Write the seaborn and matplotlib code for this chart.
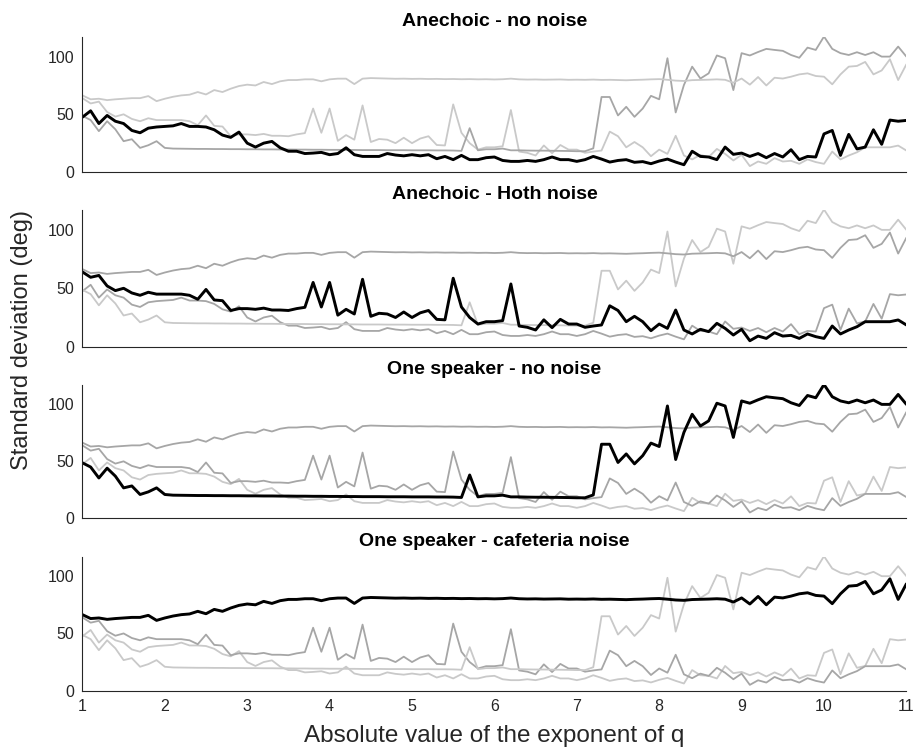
import numpy as np
import pandas as pd
import matplotlib
matplotlib.use("Agg")
import matplotlib.pyplot as plt
import seaborn as sns

# Exponent magnitudes (1.0 to 11.0 in steps of 0.1)
exponent = [round(1 + 0.1 * i, 1) for i in range(101)]

conditions = [
    "Anechoic - no noise",
    "Anechoic - Hoth noise",
    "One speaker - no noise",
    "One speaker - cafeteria noise",
]

anechoic_no_noise = [
    47.5, 53, 42, 49, 44, 42, 36, 34, 38, 39,
    39.5, 40, 42, 39.5, 39.5, 39, 36.6, 32, 30, 34.6,
    25, 21.6, 25, 26.5, 21, 18, 18, 16, 16.4, 17,
    15, 16, 21, 15, 13.5, 13.5, 13.5, 16, 14.7, 14,
    15, 14, 15, 11.5, 13.5, 10.7, 14.4, 10.7, 10.7, 12.4,
    13, 10, 9.2, 9.2, 10, 9.2, 10.7, 13, 10.7, 10.7,
    9.2, 10.7, 13.5, 11.2, 8.6, 10, 10.7, 8.4, 9, 7.2,
    9.5, 11.2, 8.6, 6.3, 18, 13.5, 13, 10.7, 21.6, 15.3,
    16.4, 13.5, 16, 12.4, 16, 13, 19.3, 10.7, 13.5, 13,
    33, 36, 14.4, 32.6, 20, 21.6, 36.6, 24, 45, 44,
    44.7,
]

anechoic_hoth = [
    64, 59.4, 61, 52, 48, 50, 46, 44, 46.6, 45,
    45, 45, 45, 44, 40.6, 49, 40, 39.4, 31, 32.6,
    32.6, 32, 33, 31.4, 31.4, 31, 32.6, 33.7, 55, 34,
    55, 27, 32, 28, 57.7, 26, 28.6, 28, 25, 29.7,
    25, 29, 31, 23.4, 23, 58.6, 34, 25, 19.4, 21.4,
    21.4, 22.3, 53.7, 17.7, 16.6, 14.3, 23, 16.3, 23.4, 19.4,
    19.4, 16.6, 17.7, 18.6, 35, 31, 21.4, 26, 21.4, 13.7,
    19.4, 15.7, 31.4, 14.3, 10.9, 14.9, 12.9, 20, 15.7, 10,
    14.9, 5.1, 9.1, 7.1, 12, 9.1, 9.7, 7.1, 10.9, 8.6,
    7.1, 17.7, 10.9, 14.3, 17.1, 21.4, 21.4, 21.4, 21.4, 22.9,
    18.6,
]

one_speaker_no_noise = [
    48.7, 45, 35.4, 44, 37, 26.7, 28.4, 20.9, 23.2, 26.7,
    20.9, 20.3, 20.2, 20.1, 20.0, 20.0, 19.9, 19.9, 19.8, 19.8,
    19.7, 19.7, 19.6, 19.6, 19.5, 19.5, 19.4, 19.4, 19.3, 19.3,
    19.2, 19.2, 19.1, 19.1, 19.0, 19.0, 19.0, 18.9, 18.9, 18.9,
    18.8, 18.8, 18.8, 18.7, 18.7, 18.6, 18.3, 38, 18.8, 19.7,
    19.7, 20.3, 18.8, 18.8, 18.6, 18.5, 18.5, 18.4, 18.3, 18.2,
    18, 18, 20.5, 65, 65, 49, 56.5, 47.8, 55, 66,
    63, 98.6, 51.6, 75.4, 91.3, 81, 85.5, 101, 98.6, 71,
    103, 101, 104, 106.7, 105.8, 105, 101.4, 99, 107.8, 105.8,
    117.4, 106.7, 103, 101.4, 103.8, 101.4, 103.8, 100, 100, 108.7,
    100,
]

one_speaker_cafeteria = [
    66.4, 63, 63.5, 62.3, 63, 63.5, 64, 64, 65.8, 61.4,
    63.5, 65.2, 66.4, 67, 69.3, 67.2, 71, 69.3, 72.2, 74.5,
    75.7, 75, 78, 76.2, 78.6, 79.7, 79.7, 80.3, 80.3, 78.6,
    80.3, 80.9, 80.9, 76.2, 80.9, 81.4, 81.2, 81.0, 80.8, 80.9,
    80.7, 80.8, 80.6, 80.7, 80.5, 80.6, 80.4, 80.5, 80.3, 80.4,
    80.2, 80.4, 80.9, 80.3, 80.1, 80.2, 80.0, 80.1, 80.2, 79.9,
    80.0, 79.9, 80.1, 79.8, 79.9, 79.7, 79.5, 79.8, 80.0, 80.3,
    80.5, 79.9, 79.2, 78.9, 79.6, 79.8, 80.0, 80.3, 79.9, 77.4,
    81, 75.7, 82.3, 75, 81.7, 81, 82.6, 84.6, 85.5, 83.2,
    82.6, 76, 84.6, 91.3, 91.9, 95.4, 84.6, 88, 97.7, 79.7,
    93.3,
]

series = [anechoic_no_noise, anechoic_hoth, one_speaker_no_noise, one_speaker_cafeteria]

df = pd.concat(
    [pd.DataFrame({"exponent": exponent, "std": vals, "condition": name})
     for name, vals in zip(conditions, series)],
    ignore_index=True,
)

LIGHT = "#c9c9c9"
MEDIUM = "#a6a6a6"
# Shade of each background curve, per panel (the panel's own condition is black)
shades = [
    [None, LIGHT, MEDIUM, LIGHT],
    [MEDIUM, None, LIGHT, MEDIUM],
    [LIGHT, MEDIUM, None, MEDIUM],
    [LIGHT, MEDIUM, LIGHT, None],
]

sns.set_theme(style="white")
plt.rcParams["font.family"] = ["Liberation Sans", "DejaVu Sans"]
plt.rcParams["axes.edgecolor"] = "#262626"
plt.rcParams["xtick.color"] = "#262626"
plt.rcParams["ytick.color"] = "#262626"

W, H = 917, 751
fig = plt.figure(figsize=(W / 100, H / 100), dpi=100)

left, right = 82.4, 906.4
panel_rows = [(37, 172), (210, 346.7), (385, 518.3), (556.7, 690.7)]

for i, (top, bottom) in enumerate(panel_rows):
    ax = fig.add_axes([left / W, 1 - bottom / H, (right - left) / W, (bottom - top) / H])
    for j, name in enumerate(conditions):
        if j == i:
            continue
        sns.lineplot(data=df[df["condition"] == name], x="exponent", y="std",
                     color=shades[i][j], linewidth=1.3, ax=ax, legend=False)
    sns.lineplot(data=df[df["condition"] == conditions[i]], x="exponent", y="std",
                 color="black", linewidth=2.1, ax=ax, legend=False)

    ax.set_xlim(1, 11)
    ax.set_ylim(0, 117)
    ax.set_yticks([0, 50, 100])
    ax.set_xlabel("")
    ax.set_ylabel("")
    for side in ("top", "right"):
        ax.spines[side].set_visible(False)
    for side in ("left", "bottom"):
        ax.spines[side].set_linewidth(0.8)
    ax.tick_params(axis="y", direction="in", length=5, width=0.8, labelsize=11.5, pad=6)
    ax.set_title(conditions[i], fontsize=14, fontweight="bold", pad=8, color="black")
    if i == 3:
        ax.set_xticks(range(1, 12))
        ax.tick_params(axis="x", direction="in", length=5, width=0.8, labelsize=11.5, pad=6)
    else:
        ax.set_xticks([])

fig.text(0.024, 0.547, "Standard deviation (deg)", rotation=90, ha="center", va="center",
         fontsize=17, color="#262626")
fig.text(0.5387, 0.02, "Absolute value of the exponent of q", ha="center", va="center",
         fontsize=17.5, color="#262626")

fig.savefig("out.png", dpi=100)
